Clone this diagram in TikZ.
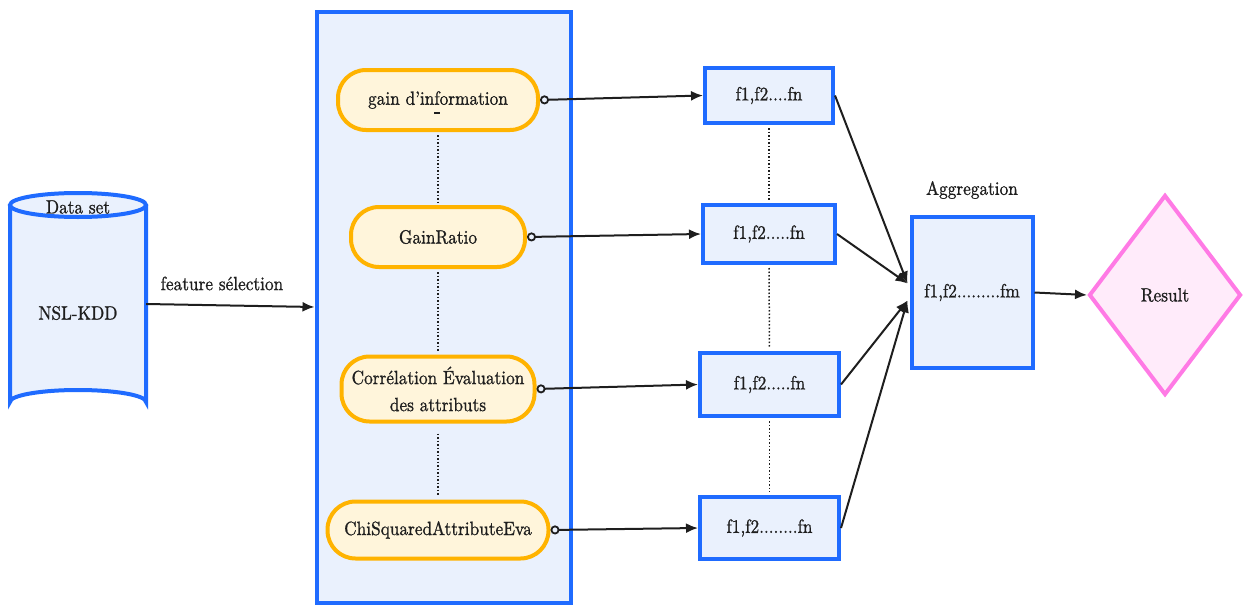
\documentclass[tikz,border=0pt]{standalone}
\usepackage{fontspec}
\setmainfont{lmroman10-regular.otf}[FakeStretch=0.9,FakeBold=1]
\usetikzlibrary{shapes.geometric,arrows.meta}
\definecolor{bluedge}{HTML}{1F6BFF}
\definecolor{bluefill}{HTML}{EAF1FD}
\definecolor{orangeedge}{HTML}{FFB300}
\definecolor{orangefill}{HTML}{FFF5DB}
\definecolor{pinkedge}{HTML}{FF7AE5}
\definecolor{pinkfill}{HTML}{FFEBFA}
\definecolor{ink}{HTML}{1E1E1E}
\begin{document}
\begin{tikzpicture}[x=1pt,y=-1pt,
  every node/.style={text=ink,font=\fontsize{19.2}{27}\selectfont,inner sep=0pt},
  pill/.style={draw=orangeedge,fill=orangefill,line width=4pt,rounded corners=28pt,align=center,minimum height=60pt},
  featbox/.style={draw=bluedge,fill=bluefill,line width=4pt},
  conn/.style={draw=ink,line width=2pt,-{Latex[length=12pt,width=10pt]}},
  tap/.style={conn,{Circle[open,length=9pt,width=9pt,line width=1.8pt]}-{Latex[length=12pt,width=10pt]}},
  guide/.style={draw=ink,dotted,line width=1.5pt,shorten <=3pt,shorten >=3pt}]
\useasboundingbox (0,0) rectangle (1248,605);

% data set cylinder
\fill[bluefill] (10,205) -- (10,402) arc[start angle=180,end angle=360,x radius=68,y radius=12] -- (146,205) -- cycle;
\draw[bluedge,line width=4pt] (10,205) -- (10,402) arc[start angle=180,end angle=360,x radius=68,y radius=12] -- (146,205);
\draw[bluedge,line width=4pt,fill=bluefill] (78,205) ellipse[x radius=68,y radius=12];
\node[minimum width=136pt,minimum height=223pt] (db) at (78,304) {};
\node (dbtitle) at (78,207) {Data set};
\node (dbname) at (78,313) {NSL-KDD};

% selection container
\node[featbox,minimum width=254pt,minimum height=591pt] (cont) at (443.5,307) {};

\draw[conn] (db.east) -- node[above=14pt,pos=0.45] (fsl) {feature sélection} (cont.west);

% selection methods
\node[pill,minimum width=200pt] (m1) at (438,100) {gain d’information};
\draw[ink,line width=1.8pt] (434,113) -- (440,113);
\node[pill,minimum width=174pt] (m2) at (438,237) {GainRatio};
\node[pill,minimum width=193pt,minimum height=65pt] (m3) at (438,389) {Corrélation Évaluation\\des attributs};
\node[pill,minimum width=221pt,minimum height=57pt] (m4) at (438,530) {ChiSquaredAttributeEva};

\draw[guide] (m1.south) -- (m2.north);
\draw[guide] (m2.south) -- (m3.north);
\draw[guide,shorten <=10pt] (m3.south) -- (m4.north);

% selected feature sets
\node[featbox,minimum width=128pt,minimum height=55pt] (b1) at (769,95.5) {f1,f2....fn};
\node[featbox,minimum width=132pt,minimum height=58pt] (b2) at (769,234) {f1,f2.....fn};
\node[featbox,minimum width=139pt,minimum height=63pt] (b3) at (769.5,384.5) {f1,f2.....fn};
\node[featbox,minimum width=139pt,minimum height=62pt] (b4) at (769.5,528) {f1,f2........fn};

\draw[guide] (b1.south) -- (b2.north);
\draw[guide] (b2.south) -- (b3.north);
\draw[guide] (b3.south) -- (b4.north);

\draw[tap] (m1.east) -- (b1.west);
\draw[tap] (m2.east) -- (b2.west);
\draw[tap] (m3.east) -- (b3.west);
\draw[tap] (m4.east) -- (b4.west);

% aggregation and result
\node[featbox,minimum width=121pt,minimum height=151pt] (agg) at (972,292.5) {f1,f2.........fm};
\node (aggtitle) at (972,190) {Aggregation};
\node[diamond,draw=pinkedge,fill=pinkfill,line width=4pt,minimum width=152pt,minimum height=200pt] (res) at (1165,295) {Result};

\coordinate (in1) at ([yshift=9pt,xshift=-2pt]agg.west);
\coordinate (in2) at ([yshift=-8pt,xshift=-2pt]agg.west);
\draw[conn] (b1.east) -- (in1);
\draw[conn] (b2.east) -- (in1);
\draw[conn] (b3.east) -- (in2);
\draw[conn] (b4.east) -- (in2);
\draw[conn] (agg.east) -- (res.west);
\end{tikzpicture}
\end{document}
